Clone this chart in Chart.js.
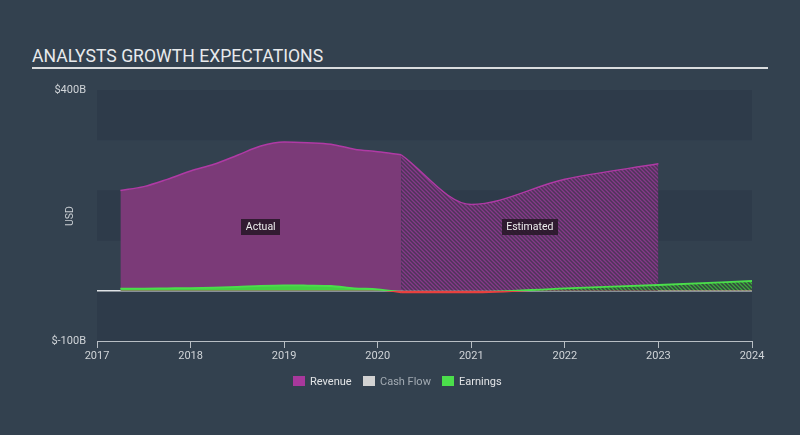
<!DOCTYPE html>
<html>
<head>
<meta charset="utf-8">
<script src="https://cdn.jsdelivr.net/npm/chart.js@4.4.1/dist/chart.umd.min.js"></script>
<style>
  html, body { margin: 0; padding: 0; background: #33404f; }
  #wrap { position: relative; width: 800px; height: 435px; background: #33414f; font-family: Roboto, sans-serif; overflow: hidden; }
  #titulo { position: absolute; left: 32px; top: 46px; font-size: 17.6px; color: #e8eaec; white-space: nowrap; }
  #linha { position: absolute; left: 32px; top: 67px; width: 736px; height: 2px; background: #dadcde; }
  #grafico { position: absolute; left: 0; top: 0; }
  .leg { position: absolute; top: 375px; font-size: 11px; color: #e2e4e6; white-space: nowrap; line-height: 13px; }
  .leg i { display: inline-block; width: 12px; height: 10px; vertical-align: -1px; margin-right: 5px; }
</style>
</head>
<body>
<div id="wrap">
  <div id="titulo">ANALYSTS GROWTH EXPECTATIONS</div>
  <div id="linha"></div>
  <canvas id="grafico" width="800" height="435"></canvas>
  <div class="leg" style="left:293px"><i style="background:#a8389c"></i>Revenue</div>
  <div class="leg" style="left:363px;color:#a3abb3"><i style="background:#d2d2d2"></i>Cash Flow</div>
  <div class="leg" style="left:442px"><i style="background:#4bde4b"></i>Earnings</div>
</div>
<script>
  // valores em bilhões de USD
  const anosReais = [2017.25, 2017.5, 2017.75, 2018, 2018.25, 2018.5, 2018.75, 2019, 2019.25, 2019.5, 2019.75, 2020, 2020.25];
  const receitaReal = [200, 207.5, 222, 238.7, 252, 270, 288.5, 296.5, 295, 292, 282, 277, 271];
  const lucroReal = [4.4, 4.5, 5, 5.5, 6.4, 8, 10, 11, 10.5, 9.6, 5, 3, -3];

  const anosReceitaEst = [2020.25, 2021, 2022, 2023];
  const receitaEstimada = [271, 172, 222, 253];
  const anosLucroEst = [2020.25, 2021, 2022, 2023, 2024];
  const lucroEstimado = [-3, -3, 5, 11.6, 19.5];

  const anosEixo = [2017, 2018, 2019, 2020, 2021, 2022, 2023, 2024];
  const rotulosY = { 400: "$400B", "-100": "$-100B" };
  const faixasEscuras = [[300, 400], [100, 200], [-100, 0]];

  function pontos(xs, ys) {
    return xs.map((x, i) => ({ x: x, y: ys[i] }));
  }

  function hachura(fundo, traco) {
    const c = document.createElement("canvas");
    c.width = 4;
    c.height = 4;
    const g = c.getContext("2d");
    g.fillStyle = fundo;
    g.fillRect(0, 0, 4, 4);
    g.strokeStyle = traco;
    g.lineWidth = 1.3;
    g.beginPath();
    g.moveTo(0, 0); g.lineTo(4, 4);
    g.moveTo(-1, 3); g.lineTo(1, 5);
    g.moveTo(3, -1); g.lineTo(5, 1);
    g.stroke();
    return g.createPattern(c, "repeat");
  }

  const corLucro = "#4bde4b";
  const corPrejuizo = "#e8413f";

  // verde acima de zero, vermelho abaixo
  function corLinhaLucro(ctx) {
    const chart = ctx.chart;
    const a = chart.chartArea;
    if (!a || !chart.scales.y) return corLucro;
    const zero = chart.scales.y.getPixelForValue(0);
    const f = Math.min(1, Math.max(0, (zero - a.top) / (a.bottom - a.top)));
    const grad = chart.ctx.createLinearGradient(0, a.top, 0, a.bottom);
    grad.addColorStop(0, corLucro);
    grad.addColorStop(f, corLucro);
    grad.addColorStop(f, corPrejuizo);
    grad.addColorStop(1, corPrejuizo);
    return grad;
  }

  const faixas = {
    id: "faixas",
    beforeDraw(chart) {
      const { ctx, chartArea: a, scales } = chart;
      ctx.save();
      ctx.fillStyle = "#2e3b4a";
      faixasEscuras.forEach(([lo, hi]) => {
        const y1 = scales.y.getPixelForValue(hi);
        const y2 = scales.y.getPixelForValue(lo);
        ctx.fillRect(a.left, y1, a.right - a.left, y2 - y1);
      });
      ctx.restore();
    },
  };

  const rotulos = {
    id: "rotulos",
    afterDatasetsDraw(chart) {
      const { ctx, scales } = chart;
      const caixas = [
        { texto: "Actual", x: (anosReais[0] + anosReais[anosReais.length - 1]) / 2 },
        { texto: "Estimated", x: (anosReceitaEst[0] + anosReceitaEst[anosReceitaEst.length - 1]) / 2 },
      ];
      ctx.save();
      ctx.font = "10.5px Roboto, sans-serif";
      ctx.textAlign = "center";
      ctx.textBaseline = "middle";
      caixas.forEach((c) => {
        const px = scales.x.getPixelForValue(c.x);
        const py = 227;
        const w = ctx.measureText(c.texto).width + 9;
        ctx.fillStyle = "rgba(38,22,38,0.85)";
        ctx.fillRect(Math.round(px - w / 2), py - 8, Math.round(w), 16);
        ctx.fillStyle = "#eeeeee";
        ctx.fillText(c.texto, px, py + 0.5);
      });
      // título do eixo Y
      ctx.translate(70, 216);
      ctx.rotate(-Math.PI / 2);
      ctx.fillStyle = "#c9ced3";
      ctx.fillText("USD", 0, 0);
      ctx.restore();
    },
  };

  new Chart(document.getElementById("grafico"), {
    type: "line",
    data: {
      datasets: [
        {
          label: "Revenue",
          data: pontos(anosReais, receitaReal),
          borderColor: "#b03aa5",
          backgroundColor: "#7b3a78",
          borderWidth: 1.5,
          fill: "origin",
          order: 2,
        },
        {
          label: "Revenue (est.)",
          data: pontos(anosReceitaEst, receitaEstimada),
          borderColor: "#b03aa5",
          backgroundColor: hachura("#4e3559", "#86398a"),
          borderWidth: 1.5,
          fill: "origin",
          order: 2,
        },
        {
          label: "Earnings",
          data: pontos(anosReais, lucroReal),
          borderColor: corLinhaLucro,
          borderWidth: 1.8,
          fill: { target: "origin", above: "#43cf43", below: corPrejuizo },
          order: 1,
        },
        {
          label: "Earnings (est.)",
          data: pontos(anosLucroEst, lucroEstimado),
          borderColor: corLinhaLucro,
          borderWidth: 1.8,
          fill: { target: "origin", above: hachura("#33463f", "#3da83d"), below: corPrejuizo },
          order: 1,
        },
      ],
    },
    options: {
      responsive: false,
      animation: false,
      cubicInterpolationMode: "monotone",
      elements: { point: { radius: 0 } },
      layout: { padding: { top: 90, right: 48, left: 0, bottom: 0 } },
      plugins: { legend: { display: false }, tooltip: { enabled: false } },
      scales: {
        x: {
          type: "linear",
          min: anosEixo[0],
          max: anosEixo[anosEixo.length - 1],
          afterBuildTicks: (s) => { s.ticks = anosEixo.map((v) => ({ value: v })); },
          afterFit: (s) => { s.height = 94; },
          ticks: {
            color: "#d0d4d8",
            font: { family: "Roboto", size: 11 },
            padding: 2,
            maxRotation: 0,
            callback: (v) => String(v),
          },
          grid: { drawOnChartArea: false, drawTicks: true, tickLength: 7, color: "#b8bec4" },
          border: { display: true, color: "#b8bec4", width: 1 },
        },
        y: {
          min: -100,
          max: 400,
          afterBuildTicks: (s) => {
            s.ticks = [-100, 0, 100, 200, 300, 400].map((v) => ({ value: v }));
          },
          afterFit: (s) => { s.width = 97; },
          ticks: {
            color: "#d0d4d8",
            font: { family: "Roboto", size: 11 },
            padding: 11,
            callback: (v) => rotulosY[v] || "",
          },
          grid: {
            drawTicks: false,
            color: (c) => (c.tick && c.tick.value === 0 ? "#dfe3e6" : "rgba(0,0,0,0)"),
            lineWidth: 1.5,
          },
          border: { display: false },
        },
      },
    },
    plugins: [faixas, rotulos],
  });
</script>
</body>
</html>
